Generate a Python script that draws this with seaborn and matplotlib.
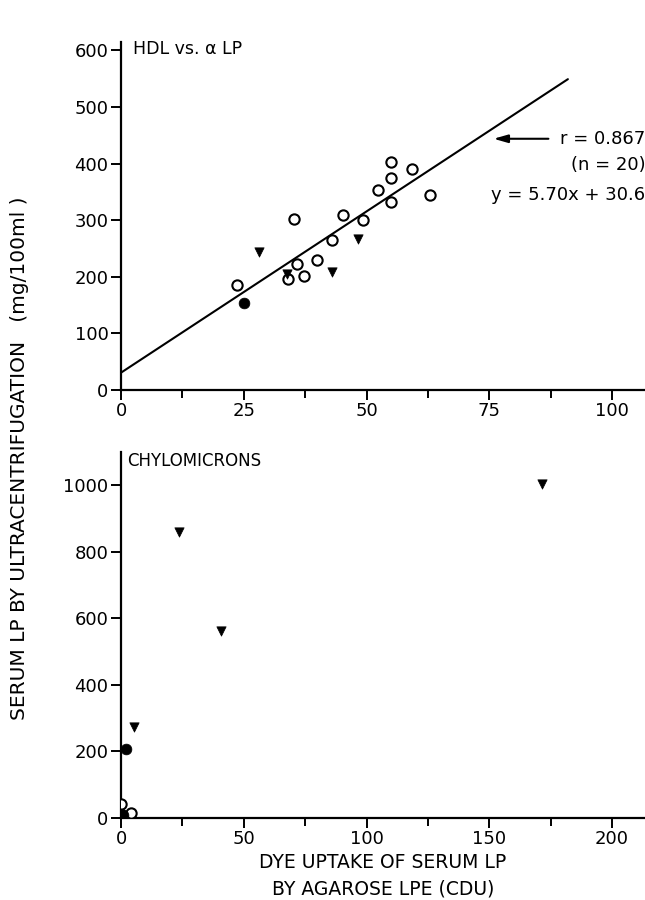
import matplotlib
matplotlib.use("Agg")
import matplotlib.pyplot as plt
import seaborn as sns
import pandas as pd
import numpy as np

sns.set_theme(style="ticks")
plt.rcParams['font.family'] = ['DejaVu Sans']
plt.rcParams['text.color'] = 'black'

# ---- top panel: HDL vs alpha LP ----
hdl_open_x = [23.7, 35.2, 34.1, 35.9, 37.3, 39.9, 43.0, 45.2, 49.3, 52.3, 55.0, 55.0, 55.0, 59.3, 62.9]
hdl_open_y = [185, 302, 196, 222, 201, 230, 265, 309, 300, 353, 403, 375, 332, 390, 345]
hdl_filled_x = [25.0]
hdl_filled_y = [153]
hdl_tri_x = [28.2, 33.9, 42.9, 48.3]
hdl_tri_y = [244, 205, 208, 266]
reg_slope = 5.70
reg_intercept = 30.6
reg_x_range = [0, 91]

# ---- bottom panel: chylomicrons ----
chy_open_x = [0.0, 4.0]
chy_open_y = [43, 14]
chy_filled_x = [2.1, 0.0, 1.0]
chy_filled_y = [206, 11, 8]
chy_tri_x = [5.2, 23.6, 40.6, 171.4]
chy_tri_y = [273, 860, 561, 1003]

top_xticks = [0, 25, 50, 75, 100]
top_yticks = [0, 100, 200, 300, 400, 500, 600]
bot_xticks = [0, 50, 100, 150, 200]
bot_yticks = [0, 200, 400, 600, 800, 1000]


def frame(xs, ys):
    return pd.DataFrame({"x": xs, "y": ys})


W, H = 645, 900
fig = plt.figure(figsize=(W / 100, H / 100), dpi=100)


def px_axes(left, right, ybot, ytop):
    return fig.add_axes([left / W, 1 - ybot / H, (right - left) / W, (ybot - ytop) / H])


ax1 = px_axes(121, 644, 390, 42)
ax2 = px_axes(121, 644, 818, 452)

open_kw = dict(marker="o", s=55, facecolor="white", edgecolor="black", linewidth=1.5, legend=False, zorder=3)
filled_kw = dict(marker="o", s=60, color="black", edgecolor="black", linewidth=0.5, legend=False, zorder=3)
tri_kw = dict(marker="v", s=45, color="black", edgecolor="black", linewidth=0.5, legend=False, zorder=3)

# top
reg = frame(reg_x_range, [reg_slope * v + reg_intercept for v in reg_x_range])
sns.lineplot(data=reg, x="x", y="y", ax=ax1, color="black", linewidth=1.5, zorder=2)
sns.scatterplot(data=frame(hdl_open_x, hdl_open_y), x="x", y="y", ax=ax1, **open_kw)
sns.scatterplot(data=frame(hdl_filled_x, hdl_filled_y), x="x", y="y", ax=ax1, **filled_kw)
sns.scatterplot(data=frame(hdl_tri_x, hdl_tri_y), x="x", y="y", ax=ax1, **tri_kw)

# bottom
sns.scatterplot(data=frame(chy_open_x, chy_open_y), x="x", y="y", ax=ax2, **open_kw)
sns.scatterplot(data=frame(chy_filled_x, chy_filled_y), x="x", y="y", ax=ax2, **filled_kw)
sns.scatterplot(data=frame(chy_tri_x, chy_tri_y), x="x", y="y", ax=ax2, **tri_kw)

fs = 13
for ax, xt, yt, xlim, ylim, xminor in [
    (ax1, top_xticks, top_yticks, (0, 106.5), (0, 615), 12.5),
    (ax2, bot_xticks, bot_yticks, (0, 213), (0, 1100), 25),
]:
    ax.set_xlim(*xlim)
    ax.set_ylim(*ylim)
    ax.set_xticks(xt)
    ax.set_yticks(yt)
    ax.set_xticks(np.arange(xminor, xlim[1], xminor * 2), minor=True)
    ax.tick_params(axis="both", which="major", length=7, width=1.4, labelsize=fs,
                   colors="black", labelcolor="black", pad=2)
    ax.tick_params(axis="x", which="minor", length=6, width=1.4, colors="black")
    ax.set_xlabel("")
    ax.set_ylabel("")
    for side in ["top", "right"]:
        ax.spines[side].set_visible(False)
    for side in ["left", "bottom"]:
        ax.spines[side].set_linewidth(1.6)
        ax.spines[side].set_color("black")
    ax.set_facecolor("white")

ax1.text(2.5, 603, "HDL vs. α LP", fontsize=12.5, va="center", ha="left")
ax2.text(2.5, 1072, "CHYLOMICRONS", fontsize=12, va="center", ha="left")

ax1.annotate("", xy=(75.3, 444), xytext=(87.6, 444),
             arrowprops=dict(arrowstyle="-|>,head_length=0.7,head_width=0.2", color="black", lw=1.5))
ax1.text(106.8, 444, "r = 0.867", fontsize=13, va="center", ha="right")
ax1.text(106.8, 397, "(n = 20)", fontsize=13, va="center", ha="right")
ax1.text(106.8, 345, "y = 5.70x + 30.6", fontsize=13, va="center", ha="right")

fig.text(20 / W, 1 - 458 / H, "SERUM LP BY ULTRACENTRIFUGATION   (mg/100ml )", rotation=90,
         ha="center", va="center", fontsize=14.5)
fig.text(383 / W, 1 - 862 / H, "DYE UPTAKE OF SERUM LP", ha="center", va="center", fontsize=13.5)
fig.text(383 / W, 1 - 889 / H, "BY AGAROSE LPE (CDU)", ha="center", va="center", fontsize=13.5)

fig.savefig("out.png", dpi=100, facecolor="white")
